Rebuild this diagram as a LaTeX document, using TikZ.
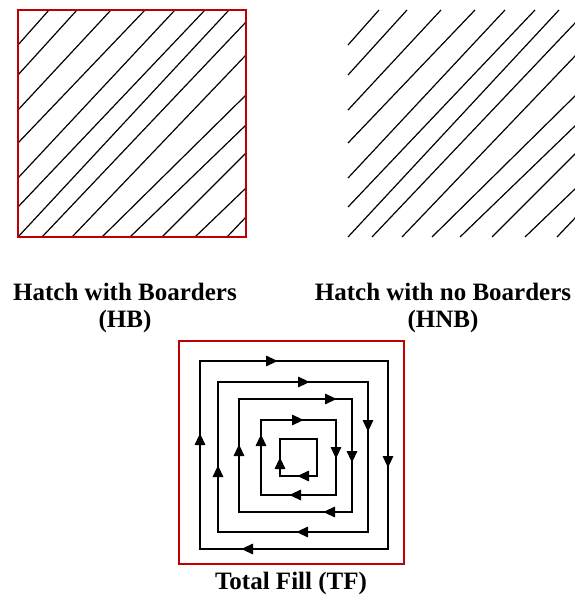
\documentclass[tikz,border=0pt]{standalone}
\usepackage{fontspec}
\setmainfont{Liberation Serif}
\usetikzlibrary{arrows.meta}
\definecolor{bred}{RGB}{192,0,0}
\begin{document}
\begin{tikzpicture}[x=1pt,y=-1pt,
  hatch/.style={line width=1.2pt, black},
  redbox/.style={draw=bred, line width=2.2pt},
  loopline/.style={line width=2.9pt, line join=miter},
  arr/.style={line width=2.9pt, -{Triangle[length=12pt,width=10pt]}},
  lbl/.style={font=\fontsize{25}{27}\selectfont\bfseries, anchor=base, inner sep=0pt}]
\useasboundingbox (0,0) rectangle (574,601);
% ---- Hatch with borders and without borders
\foreach \dx in {0,330}{
  \begin{scope}[xshift=\dx pt]
  \foreach \ly/\tx in {45/49,75/77,110/111,143/145,178/175,207/205,237/229}
    \draw[hatch] (18,\ly) -- (\tx,10);
  \foreach \bx/\ry in {42/22,72/55,102/95,130/125,162/153,195/188,227/217}
    \draw[hatch] (\bx,237) -- (246,\ry);
  \end{scope}
}
\draw[redbox] (18,10) rectangle (246,237);
% ---- labels
\node[lbl] (hb1) at (125,300) {Hatch with Boarders};
\node[lbl] (hb2) at (125,327) {(HB)};
\node[lbl] (hnb1) at (443,300) {Hatch with no Boarders};
\node[lbl] (hnb2) at (443,327) {(HNB)};
% ---- Total fill
\draw[redbox] (179,341) rectangle (404,564);
\draw[loopline] (200,361) rectangle (388,549);
\draw[loopline] (218,382) rectangle (368,532);
\draw[loopline] (239,399) rectangle (352,512);
\draw[loopline] (261,420) rectangle (336,495);
\draw[loopline] (280,439) rectangle (317,476);
% arrows: base -- tip
\draw[arr] (200,446) -- (200,433);
\draw[arr] (265,361) -- (278,361);
\draw[arr] (388,455) -- (388,468);
\draw[arr] (254,549) -- (241,549);
\draw[arr] (218,478) -- (218,465);
\draw[arr] (297,382) -- (310,382);
\draw[arr] (368,419) -- (368,432);
\draw[arr] (309,532) -- (296,532);
\draw[arr] (239,457) -- (239,444);
\draw[arr] (324,399) -- (337,399);
\draw[arr] (352,450) -- (352,463);
\draw[arr] (336,512) -- (323,512);
\draw[arr] (261,447) -- (261,434);
\draw[arr] (291,420) -- (304,420);
\draw[arr] (336,446) -- (336,459);
\draw[arr] (302,495) -- (289,495);
\draw[arr] (280,470) -- (280,457);
\draw[arr] (310,476) -- (297,476);
\node[lbl] (tf) at (291,589) {Total Fill (TF)};
\end{tikzpicture}
\end{document}
